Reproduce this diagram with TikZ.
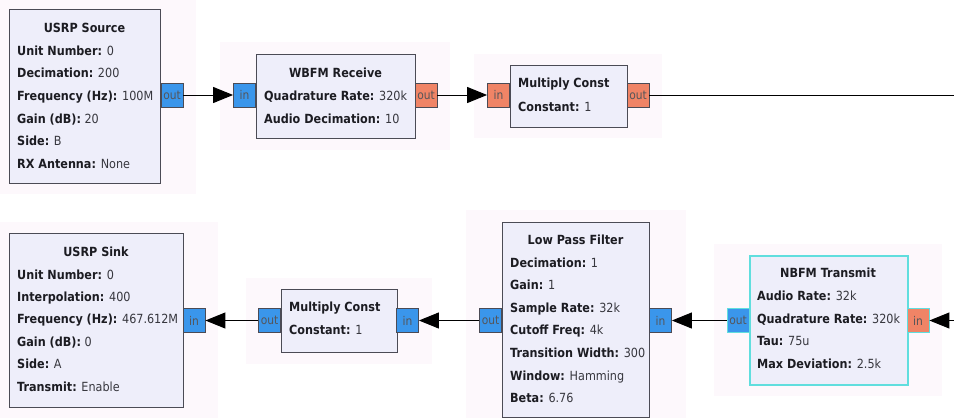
\documentclass[tikz,border=0pt]{standalone}
\usepackage{fontspec}
\setmainfont{DejaVu Sans}[FakeStretch=0.89]
\usetikzlibrary{arrows.meta}

\definecolor{blockfill}{RGB}{238,238,250}
\definecolor{blockedge}{RGB}{75,75,85}
\definecolor{portblue}{RGB}{58,150,235}
\definecolor{portorange}{RGB}{240,132,102}
\definecolor{selcyan}{RGB}{96,222,222}
\definecolor{halo}{RGB}{253,248,252}
\definecolor{labeltext}{RGB}{28,28,34}
\definecolor{valuetext}{RGB}{55,55,62}

\tikzset{
  x=1pt, y=-1pt,
  halobox/.style={fill=halo, draw=none},
  blockbox/.style={draw=blockedge, fill=blockfill, line width=1.2pt, inner sep=0pt, anchor=north west},
  selbox/.style={blockbox, draw=selcyan, line width=1.6pt},
  port/.style={draw=blockedge, line width=0.8pt, minimum width=22pt, minimum height=24pt,
    inner sep=0pt, font=\fontsize{12}{12}\selectfont, text=labeltext!75},
  cport/.style={port, fill=portblue},
  fport/.style={port, fill=portorange},
  title/.style={font=\fontsize{12.6}{12.6}\selectfont\bfseries, anchor=base, text=labeltext, inner sep=0pt},
  param/.style={font=\fontsize{12.6}{12.6}\selectfont, anchor=base west, text=valuetext, inner sep=0pt},
  wire/.style={draw=black, line width=1pt},
  flow/.style={wire, -{Triangle[length=20pt,width=16pt]}},
}
\newcommand{\pname}[1]{\textcolor{labeltext}{\textbf{#1}}}

\begin{document}
\begin{tikzpicture}
\useasboundingbox[fill=white] (0,0) rectangle (954,418);

% faint canvas shading around each block
\fill[halobox] (0,0) rectangle (196,194);
\fill[halobox] (220,42) rectangle (450,150);
\fill[halobox] (474,54) rectangle (662,138);
\fill[halobox] (0,222) rectangle (218,418);
\fill[halobox] (246,278) rectangle (432,364);
\fill[halobox] (466,210) rectangle (686,418);
\fill[halobox] (714,244) rectangle (942,396);

% ---------- top row ----------
% USRP Source
\node[blockbox, minimum width=151pt, minimum height=174pt] (src) at (9,9) {};
\node[title] (srct) at (84.5,32.5) {USRP Source};
\node[param] (srcp1) at (17,55.5) {\pname{Unit Number:} 0};
\node[param] (srcp2) at (17,77.5) {\pname{Decimation:} 200};
\node[param] (srcp3) at (17,100.5) {\pname{Frequency (Hz):} 100M};
\node[param] (srcp4) at (17,123.5) {\pname{Gain (dB):} 20};
\node[param] (srcp5) at (17,145.5) {\pname{Side:} B};
\node[param] (srcp6) at (17,168.5) {\pname{RX Antenna:} None};
\node[cport] (srcout) at (172,95) {out};

% WBFM Receive
\node[blockbox, minimum width=159pt, minimum height=84pt] (wb) at (256,54) {};
\node[title] (wbt) at (335.5,77.5) {WBFM Receive};
\node[param] (wbp1) at (264,100.5) {\pname{Quadrature Rate:} 320k};
\node[param] (wbp2) at (264,123.5) {\pname{Audio Decimation:} 10};
\node[cport] (wbin) at (244.5,95) {in};
\node[fport] (wbout) at (426,95) {out};

% Multiply Const (top)
\node[blockbox, minimum width=117pt, minimum height=62pt] (mca) at (510,65) {};
\node[title, anchor=base west] (mcat) at (518,87.5) {Multiply Const};
\node[param] (mcap1) at (518,111.5) {\pname{Constant:} 1};
\node[fport] (mcain) at (498.5,95) {in};
\node[fport] (mcaout) at (638,95) {out};
\coordinate (topend) at (954,95);

% ---------- bottom row ----------
% USRP Sink
\node[blockbox, minimum width=174pt, minimum height=174pt] (snk) at (9,233) {};
\node[title] (snkt) at (96,256.5) {USRP Sink};
\node[param] (snkp1) at (17,279.5) {\pname{Unit Number:} 0};
\node[param] (snkp2) at (17,301.5) {\pname{Interpolation:} 400};
\node[param] (snkp3) at (17,323.5) {\pname{Frequency (Hz):} 467.612M};
\node[param] (snkp4) at (17,346.5) {\pname{Gain (dB):} 0};
\node[param] (snkp5) at (17,368.5) {\pname{Side:} A};
\node[param] (snkp6) at (17,391.5) {\pname{Transmit:} Enable};
\node[cport] (snkin) at (194,320.5) {in};

% Multiply Const (bottom)
\node[blockbox, minimum width=116pt, minimum height=63pt] (mcb) at (281,289) {};
\node[title, anchor=base west] (mcbt) at (289,311.5) {Multiply Const};
\node[param] (mcbp1) at (289,334.5) {\pname{Constant:} 1};
\node[cport] (mcbout) at (269.5,320.5) {out};
\node[cport] (mcbin) at (407.5,320.5) {in};

% Low Pass Filter
\node[blockbox, minimum width=147pt, minimum height=195pt] (lpf) at (502,222) {};
\node[title] (lpft) at (575.5,244.5) {Low Pass Filter};
\node[param] (lpfp1) at (510,267.5) {\pname{Decimation:} 1};
\node[param] (lpfp2) at (510,289.5) {\pname{Gain:} 1};
\node[param] (lpfp3) at (510,312.5) {\pname{Sample Rate:} 32k};
\node[param] (lpfp4) at (510,334.5) {\pname{Cutoff Freq:} 4k};
\node[param] (lpfp5) at (510,357.5) {\pname{Transition Width:} 300};
\node[param] (lpfp6) at (510,380.5) {\pname{Window:} Hamming};
\node[param] (lpfp7) at (510,402.5) {\pname{Beta:} 6.76};
\node[cport] (lpfout) at (490.5,320.5) {out};
\node[cport] (lpfin) at (660.5,320.5) {in};

% NBFM Transmit (selected)
\node[selbox, minimum width=158pt, minimum height=129pt] (nb) at (749,255) {};
\node[title] (nbt) at (828,277.5) {NBFM Transmit};
\node[param] (nbp1) at (757,300.5) {\pname{Audio Rate:} 32k};
\node[param] (nbp2) at (757,323.5) {\pname{Quadrature Rate:} 320k};
\node[param] (nbp3) at (757,345.5) {\pname{Tau:} 75u};
\node[param] (nbp4) at (757,368.5) {\pname{Max Deviation:} 2.5k};
\node[cport, draw=selcyan] (nbout) at (738,320.5) {out};
\node[fport, draw=selcyan] (nbin) at (918,320.5) {in};
\coordinate (botstart) at (954,320.5);

% ---------- connections ----------
\draw[flow] (srcout.east) -- (wbin.west);
\draw[flow] (wbout.east) -- (mcain.west);
\draw[wire] (mcaout.east) -- (topend);
\draw[flow] (botstart) -- (nbin.east);
\draw[flow] (nbout.west) -- (lpfin.east);
\draw[flow] (lpfout.west) -- (mcbin.east);
\draw[flow] (mcbout.west) -- (snkin.east);
\end{tikzpicture}
\end{document}
